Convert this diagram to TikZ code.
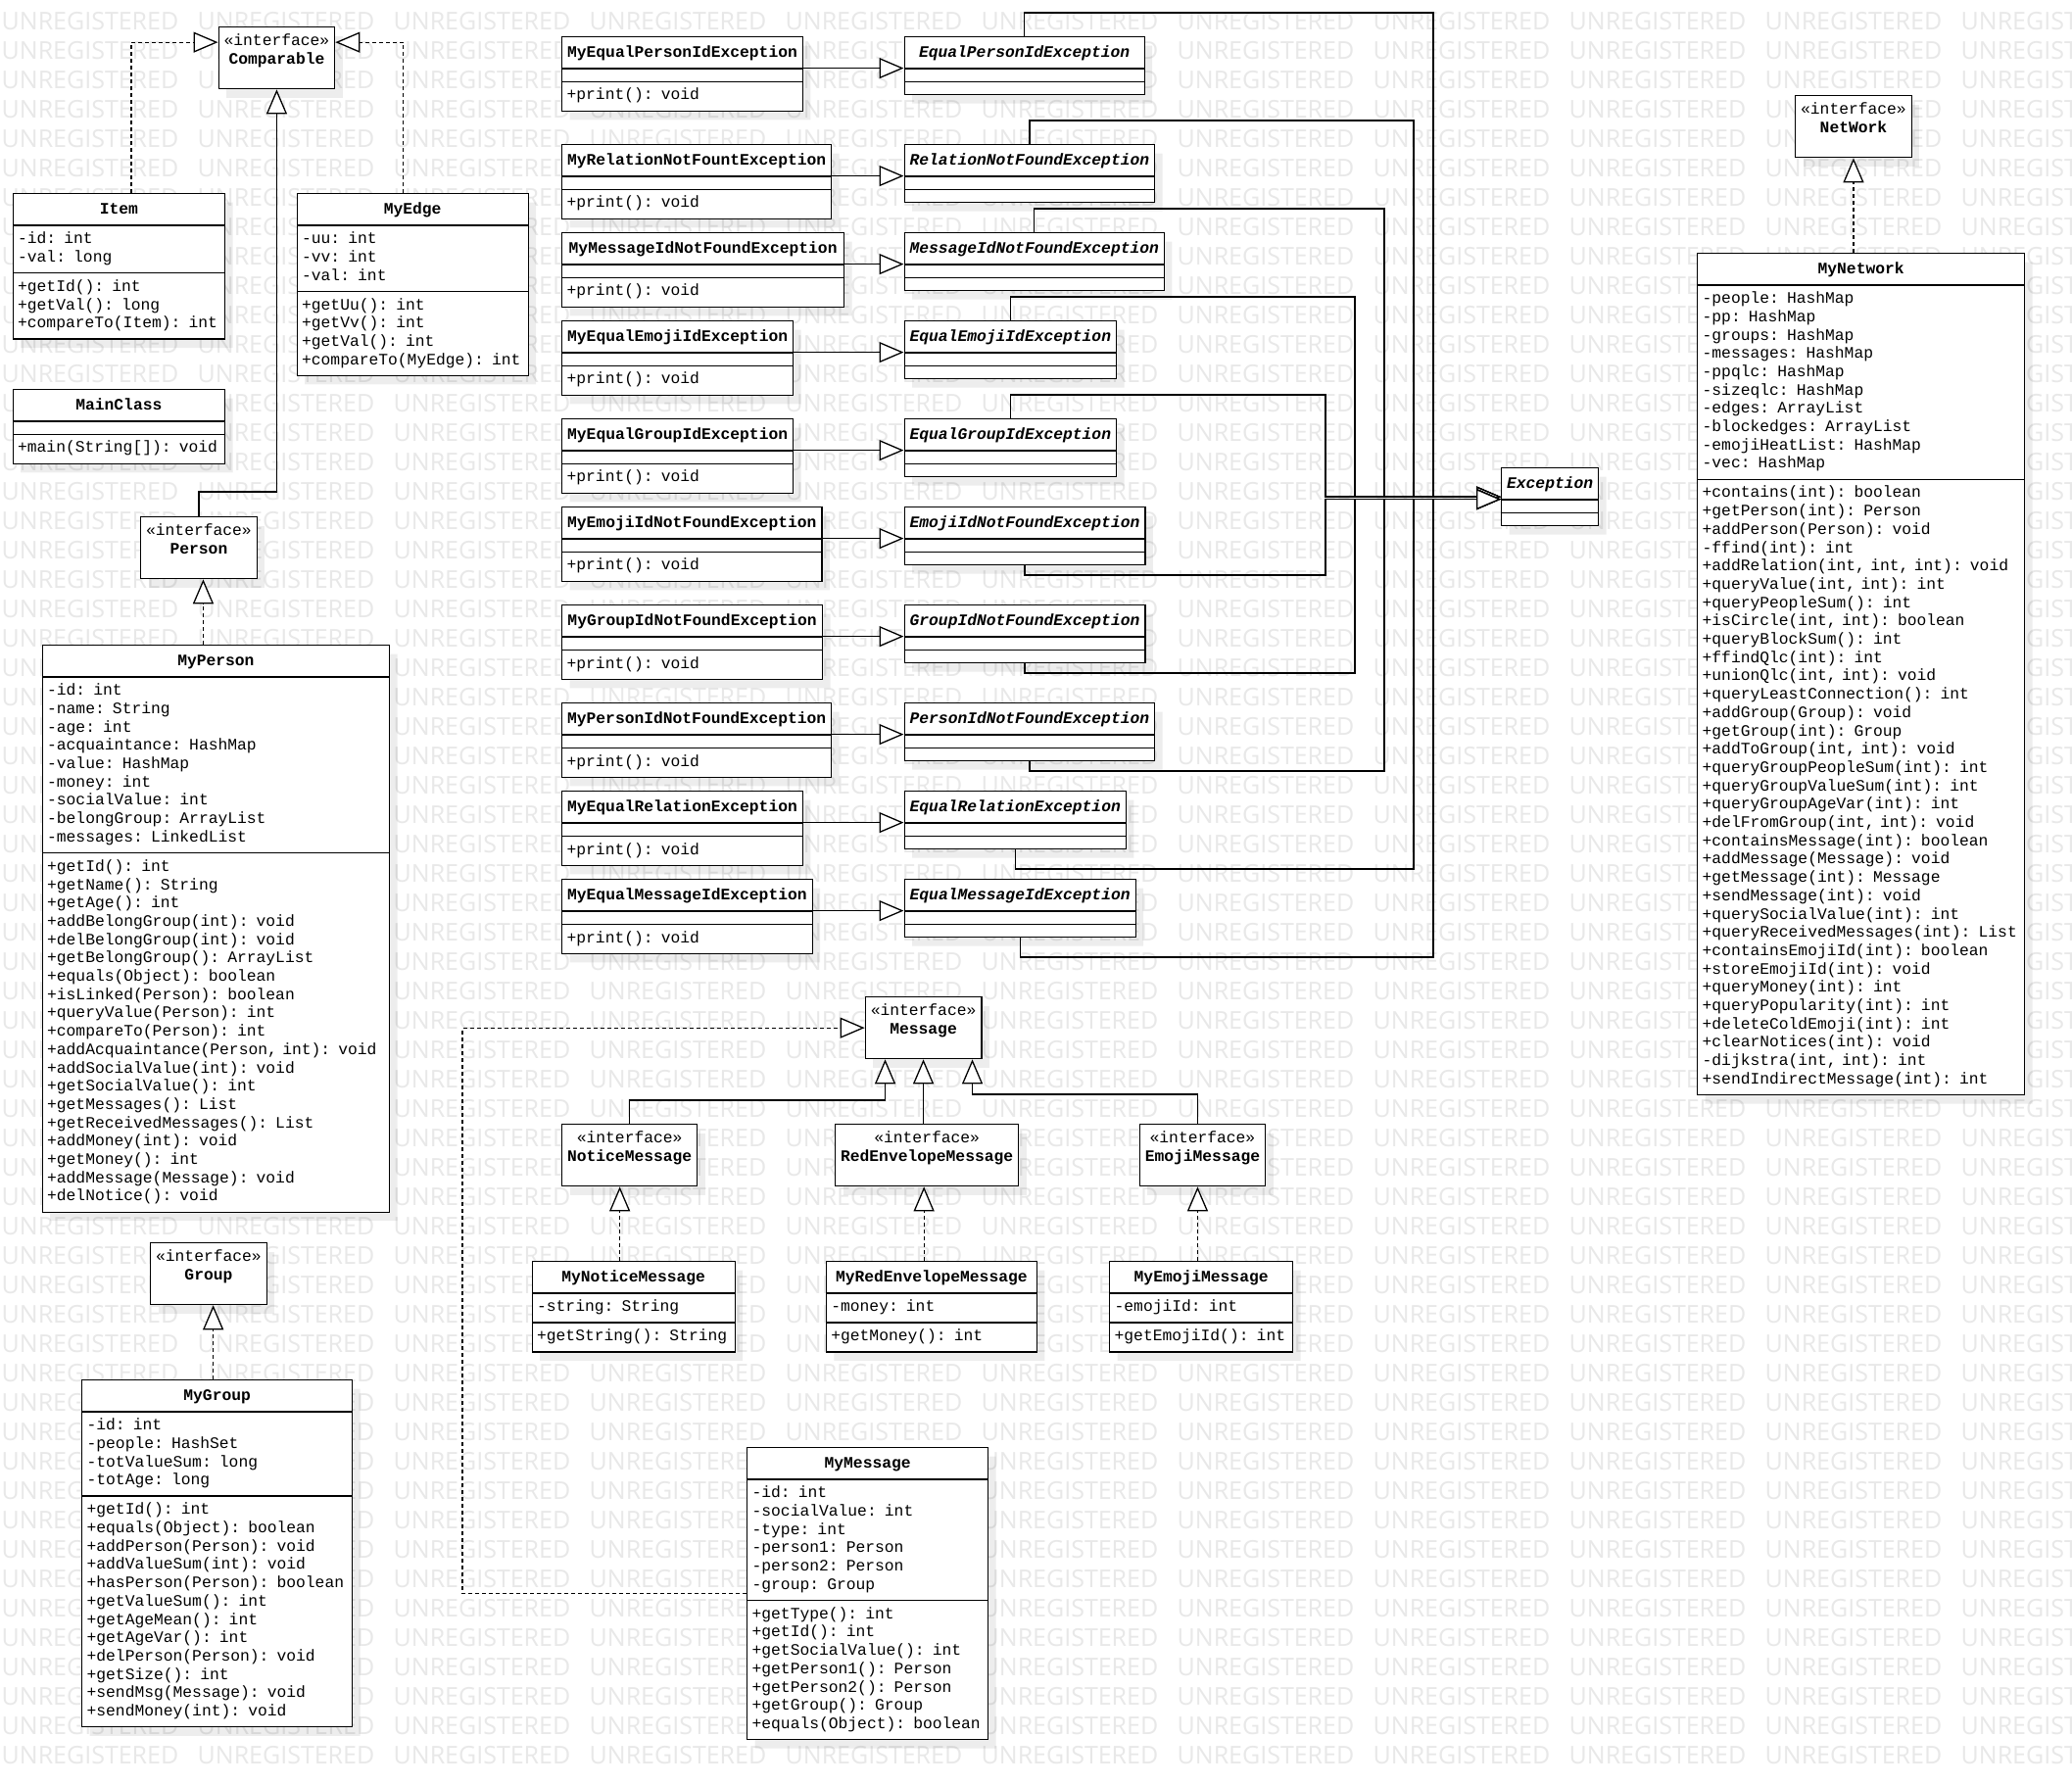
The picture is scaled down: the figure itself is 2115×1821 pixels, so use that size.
\documentclass[tikz,border=0pt]{standalone}
\usepackage{fontspec}
\setmonofont{Liberation Mono}
\newfontfamily\wmfont{Open Sans}
\usetikzlibrary{shapes.multipart, arrows.meta, shadows}

\newcommand{\umltitle}[1]{\hbox to\hsize{\hfil\rule[-5.4pt]{0pt}{21pt}\textbf{#1}\hfil}}
\newcommand{\umlabstract}[1]{\hbox to\hsize{\hfil\rule[-5.4pt]{0pt}{21pt}\textbf{\textit{#1}}\hfil}}
\newcommand{\umlempty}{\rule{0pt}{2pt}}
\newcommand{\ifaceempty}{\rule{0pt}{3pt}}

\tikzset{
  umlbox/.style = {draw, fill=white, line width=1.3pt,
                   rectangle split, rectangle split parts=3,
                   inner xsep=5pt, inner ysep=5pt, align=left, anchor=north west,
                   font=\ttfamily\fontsize{16.3}{18.7}\selectfont,
                   drop shadow={shadow xshift=8pt, shadow yshift=-9pt, fill=black, opacity=0.07}},
  iface/.style = {umlbox, rectangle split parts=2,
                  rectangle split draw splits=false, align=center},
  extends/.style = {line width=1.3pt, -{Triangle[length=25pt, width=21pt, fill=white]}},
  implements/.style = {extends, dash pattern=on 4pt off 3pt},
  watermark/.style = {font=\wmfont\fontsize{25}{25}\selectfont, text=black!9,
                      inner sep=0pt, anchor=base west},
}

\begin{document}
\begin{tikzpicture}[x=1pt, y=-1pt]
\useasboundingbox (0,0) rectangle (2115,1821);
\fill[white] (0,0) rectangle (2115,1821);
% background stamp
\foreach \r in {1,...,60}
  \foreach \c in {0,...,10}
    \node[watermark] at (\c*200+1.5, \r*30) {UNREGISTERED};

% left column
\node[iface, text width=108.6pt] (comparable) at (222.5,27)
  {\strut«interface»\\\textbf{Comparable}\strut \nodepart{two}\ifaceempty};
\node[umlbox, text width=206.4pt] (item) at (12.5,197) {\umltitle{Item}
  \nodepart{two}\strut-id: int\\-val: long\strut
  \nodepart{three}\strut+getId(): int\\+getVal(): long\\+compareTo(Item): int\strut};
\node[umlbox, text width=226pt] (myedge) at (302.5,197) {\umltitle{MyEdge}
  \nodepart{two}\strut-uu: int\\-vv: int\\-val: int\strut
  \nodepart{three}\strut+getUu(): int\\+getVv(): int\\+getVal(): int\\+compareTo(MyEdge): int\strut};
\node[umlbox, text width=206.4pt] (mainclass) at (12.5,397) {\umltitle{MainClass}
  \nodepart{two}\umlempty
  \nodepart{three}\strut+main(String[]): void\strut};
\node[iface, text width=108.6pt] (person) at (143,527)
  {\strut«interface»\\\textbf{Person}\strut \nodepart{two}\ifaceempty};
\node[umlbox, text width=344.5pt] (myperson) at (42.5,658) {\umltitle{MyPerson}
  \nodepart{two}\strut-id: int\\-name: String\\-age: int\\-acquaintance: HashMap\\-value: HashMap\\
    -money: int\\-socialValue: int\\-belongGroup: ArrayList\\-messages: LinkedList\strut
  \nodepart{three}\strut+getId(): int\\+getName(): String\\+getAge(): int\\+addBelongGroup(int): void\\
    +delBelongGroup(int): void\\+getBelongGroup(): ArrayList\\+equals(Object): boolean\\
    +isLinked(Person): boolean\\+queryValue(Person): int\\+compareTo(Person): int\\
    +addAcquaintance(Person, int): void\\+addSocialValue(int): void\\+getSocialValue(): int\\
    +getMessages(): List\\+getReceivedMessages(): List\\+addMoney(int): void\\+getMoney(): int\\
    +addMessage(Message): void\\+delNotice(): void\strut};
\node[iface, text width=108.6pt] (group) at (153,1268)
  {\strut«interface»\\\textbf{Group}\strut \nodepart{two}\ifaceempty};
\node[umlbox, text width=266pt] (mygroup) at (83,1408) {\umltitle{MyGroup}
  \nodepart{two}\strut-id: int\\-people: HashSet\\-totValueSum: long\\-totAge: long\strut
  \nodepart{three}\strut+getId(): int\\+equals(Object): boolean\\+addPerson(Person): void\\
    +addValueSum(int): void\\+hasPerson(Person): boolean\\+getValueSum(): int\\+getAgeMean(): int\\
    +getAgeVar(): int\\+delPerson(Person): void\\+getSize(): int\\+sendMsg(Message): void\\
    +sendMoney(int): void\strut};

% exceptions
\node[umlbox, text width=235.7pt] (myepid) at (573,37) {\umltitle{MyEqualPersonIdException}
  \nodepart{two}\umlempty \nodepart{three}\strut+print(): void\strut};
\node[umlbox, text width=265pt] (myrnf) at (573,147) {\umltitle{MyRelationNotFountException}
  \nodepart{two}\umlempty \nodepart{three}\strut+print(): void\strut};
\node[umlbox, text width=278pt] (mymidnf) at (573,237) {\umltitle{MyMessageIdNotFoundException}
  \nodepart{two}\umlempty \nodepart{three}\strut+print(): void\strut};
\node[umlbox, text width=226pt] (myeeid) at (573,327) {\umltitle{MyEqualEmojiIdException}
  \nodepart{two}\umlempty \nodepart{three}\strut+print(): void\strut};
\node[umlbox, text width=226pt] (myegid) at (573,427) {\umltitle{MyEqualGroupIdException}
  \nodepart{two}\umlempty \nodepart{three}\strut+print(): void\strut};
\node[umlbox, text width=255.3pt] (myeidnf) at (573,517) {\umltitle{MyEmojiIdNotFoundException}
  \nodepart{two}\umlempty \nodepart{three}\strut+print(): void\strut};
\node[umlbox, text width=256pt] (mygidnf) at (573,617) {\umltitle{MyGroupIdNotFoundException}
  \nodepart{two}\umlempty \nodepart{three}\strut+print(): void\strut};
\node[umlbox, text width=265pt] (mypidnf) at (573,717) {\umltitle{MyPersonIdNotFoundException}
  \nodepart{two}\umlempty \nodepart{three}\strut+print(): void\strut};
\node[umlbox, text width=235.7pt] (myer) at (573,807) {\umltitle{MyEqualRelationException}
  \nodepart{two}\umlempty \nodepart{three}\strut+print(): void\strut};
\node[umlbox, text width=245.5pt] (myemid) at (573,897) {\umltitle{MyEqualMessageIdException}
  \nodepart{two}\umlempty \nodepart{three}\strut+print(): void\strut};

\node[umlbox, text width=235pt] (epid) at (922.5,37) {\umlabstract{EqualPersonIdException}
  \nodepart{two}\umlempty \nodepart{three}\umlempty};
\node[umlbox, text width=245.5pt] (rnf) at (922.5,147) {\umlabstract{RelationNotFoundException}
  \nodepart{two}\umlempty \nodepart{three}\umlempty};
\node[umlbox, text width=255.3pt] (midnf) at (922.5,237) {\umlabstract{MessageIdNotFoundException}
  \nodepart{two}\umlempty \nodepart{three}\umlempty};
\node[umlbox, text width=206.4pt] (eeid) at (922.5,327) {\umlabstract{EqualEmojiIdException}
  \nodepart{two}\umlempty \nodepart{three}\umlempty};
\node[umlbox, text width=206.4pt] (egid) at (922.5,427) {\umlabstract{EqualGroupIdException}
  \nodepart{two}\umlempty \nodepart{three}\umlempty};
\node[umlbox, text width=235.7pt] (eidnf) at (922.5,517) {\umlabstract{EmojiIdNotFoundException}
  \nodepart{two}\umlempty \nodepart{three}\umlempty};
\node[umlbox, text width=235.7pt] (gidnf) at (922.5,617) {\umlabstract{GroupIdNotFoundException}
  \nodepart{two}\umlempty \nodepart{three}\umlempty};
\node[umlbox, text width=245.5pt] (pidnf) at (922.5,717) {\umlabstract{PersonIdNotFoundException}
  \nodepart{two}\umlempty \nodepart{three}\umlempty};
\node[umlbox, text width=216.2pt] (er) at (922.5,807) {\umlabstract{EqualRelationException}
  \nodepart{two}\umlempty \nodepart{three}\umlempty};
\node[umlbox, text width=226pt] (emid) at (922.5,897) {\umlabstract{EqualMessageIdException}
  \nodepart{two}\umlempty \nodepart{three}\umlempty};

\node[umlbox, text width=89pt] (exc) at (1532,477) {\umlabstract{Exception}
  \nodepart{two}\umlempty \nodepart{three}\umlempty};

% messages
\node[iface, text width=108.6pt] (message) at (882.6,1017)
  {\strut«interface»\\\textbf{Message}\strut \nodepart{two}\ifaceempty};
\node[iface, text width=128pt] (noticemsg) at (573,1147)
  {\strut«interface»\\\textbf{NoticeMessage}\strut \nodepart{two}\ifaceempty};
\node[iface, text width=177pt] (redenvmsg) at (852,1147)
  {\strut«interface»\\\textbf{RedEnvelopeMessage}\strut \nodepart{two}\ifaceempty};
\node[iface, text width=118.4pt] (emojimsg) at (1162.6,1147)
  {\strut«interface»\\\textbf{EmojiMessage}\strut \nodepart{two}\ifaceempty};
\node[umlbox, text width=197pt] (mynoticemsg) at (542.5,1287) {\umltitle{MyNoticeMessage}
  \nodepart{two}\strut-string: String\strut
  \nodepart{three}\strut+getString(): String\strut};
\node[umlbox, text width=205pt] (myredenvmsg) at (842.7,1287) {\umltitle{MyRedEnvelopeMessage}
  \nodepart{two}\strut-money: int\strut
  \nodepart{three}\strut+getMoney(): int\strut};
\node[umlbox, text width=177pt] (myemojimsg) at (1132,1287) {\umltitle{MyEmojiMessage}
  \nodepart{two}\strut-emojiId: int\strut
  \nodepart{three}\strut+getEmojiId(): int\strut};
\node[umlbox, text width=236pt] (mymessage) at (762,1477) {\umltitle{MyMessage}
  \nodepart{two}\strut-id: int\\-socialValue: int\\-type: int\\-person1: Person\\-person2: Person\\
    -group: Group\strut
  \nodepart{three}\strut+getType(): int\\+getId(): int\\+getSocialValue(): int\\+getPerson1(): Person\\
    +getPerson2(): Person\\+getGroup(): Group\\+equals(Object): boolean\strut};

% network
\node[iface, text width=108.6pt] (network) at (1832,97)
  {\strut«interface»\\\textbf{NetWork}\strut \nodepart{two}\ifaceempty};
\node[umlbox, text width=324pt] (mynetwork) at (1732,258) {\umltitle{MyNetwork}
  \nodepart{two}\strut-people: HashMap\\-pp: HashMap\\-groups: HashMap\\-messages: HashMap\\
    -ppqlc: HashMap\\-sizeqlc: HashMap\\-edges: ArrayList\\-blockedges: ArrayList\\
    -emojiHeatList: HashMap\\-vec: HashMap\strut
  \nodepart{three}\strut+contains(int): boolean\\+getPerson(int): Person\\+addPerson(Person): void\\
    -ffind(int): int\\+addRelation(int, int, int): void\\+queryValue(int, int): int\\
    +queryPeopleSum(): int\\+isCircle(int, int): boolean\\+queryBlockSum(): int\\
    +ffindQlc(int): int\\+unionQlc(int, int): void\\+queryLeastConnection(): int\\
    +addGroup(Group): void\\+getGroup(int): Group\\+addToGroup(int, int): void\\
    +queryGroupPeopleSum(int): int\\+queryGroupValueSum(int): int\\+queryGroupAgeVar(int): int\\
    +delFromGroup(int, int): void\\+containsMessage(int): boolean\\+addMessage(Message): void\\
    +getMessage(int): Message\\+sendMessage(int): void\\+querySocialValue(int): int\\
    +queryReceivedMessages(int): List\\+containsEmojiId(int): boolean\\+storeEmojiId(int): void\\
    +queryMoney(int): int\\+queryPopularity(int): int\\+deleteColdEmoji(int): int\\
    +clearNotices(int): void\\-dijkstra(int, int): int\\+sendIndirectMessage(int): int\strut};

% realization and generalization
\draw[implements] ([xshift=12.5pt]item.north) |- ([yshift=16pt]comparable.west);
\draw[implements] ([xshift=-9.5pt]myedge.north) |- ([yshift=16pt]comparable.east);
\draw[extends] (person.north) -- ++(0,-25) -| (comparable.south);
\draw[implements] ([xshift=4.5pt]person.south |- myperson.north) -- ([xshift=4.5pt]person.south);
\draw[implements] ([xshift=4.7pt]group.south |- mygroup.north) -- ([xshift=4.7pt]group.south);
\draw[implements] (network.south |- mynetwork.north) -- (network.south);

\draw[extends] ([yshift=-2.5pt]epid.west -| myepid.east) -- ([yshift=-2.5pt]epid.west);
\draw[extends] ([yshift=-2.5pt]rnf.west -| myrnf.east) -- ([yshift=-2.5pt]rnf.west);
\draw[extends] ([yshift=-2.5pt]midnf.west -| mymidnf.east) -- ([yshift=-2.5pt]midnf.west);
\draw[extends] ([yshift=-2.5pt]eeid.west -| myeeid.east) -- ([yshift=-2.5pt]eeid.west);
\draw[extends] ([yshift=-2.5pt]egid.west -| myegid.east) -- ([yshift=-2.5pt]egid.west);
\draw[extends] ([yshift=-2.5pt]eidnf.west -| myeidnf.east) -- ([yshift=-2.5pt]eidnf.west);
\draw[extends] ([yshift=-2.5pt]gidnf.west -| mygidnf.east) -- ([yshift=-2.5pt]gidnf.west);
\draw[extends] ([yshift=-2.5pt]pidnf.west -| mypidnf.east) -- ([yshift=-2.5pt]pidnf.west);
\draw[extends] ([yshift=-2.5pt]er.west -| myer.east) -- ([yshift=-2.5pt]er.west);
\draw[extends] ([yshift=-2.5pt]emid.west -| myemid.east) -- ([yshift=-2.5pt]emid.west);

\draw[extends] (epid.north) |- (1463,13) |- (exc.west);
\draw[extends] (rnf.north) |- (1443,123) |- (exc.west);
\draw[extends] (midnf.north) |- (1413,213) |- (exc.west);
\draw[extends] (eeid.north) |- (1383,303) |- (exc.west);
\draw[extends] (egid.north) |- (1353,403) |- (exc.west);
\draw[extends] (eidnf.south) |- (1353,587) |- ([yshift=-2.5pt]exc.west);
\draw[extends] (gidnf.south) |- (1383,687) |- ([yshift=-2.5pt]exc.west);
\draw[extends] (pidnf.south) |- (1413,787) |- ([yshift=-2.5pt]exc.west);
\draw[extends] (er.south) |- (1443,887) |- ([yshift=-2.5pt]exc.west);
\draw[extends] (emid.south) |- (1463,977) |- ([yshift=-2.5pt]exc.west);

\draw[extends] (noticemsg.north) -- ++(0,-24) -| ([xshift=-39pt]message.south);
\draw[extends] (message.south |- redenvmsg.north) -- (message.south);
\draw[extends] ([xshift=-5pt]emojimsg.north) -- ++(0,-30) -| ([xshift=50pt]message.south);
\draw[implements] ([xshift=-10pt]noticemsg.south |- mynoticemsg.north) -- ([xshift=-10pt]noticemsg.south);
\draw[implements] ([xshift=-3pt]redenvmsg.south |- myredenvmsg.north) -- ([xshift=-3pt]redenvmsg.south);
\draw[implements] ([xshift=-5pt]emojimsg.south |- myemojimsg.north) -- ([xshift=-5pt]emojimsg.south);
\draw[implements] (mymessage.west) -| ([xshift=-410.6pt]message.west) -- (message.west);
\end{tikzpicture}
\end{document}
